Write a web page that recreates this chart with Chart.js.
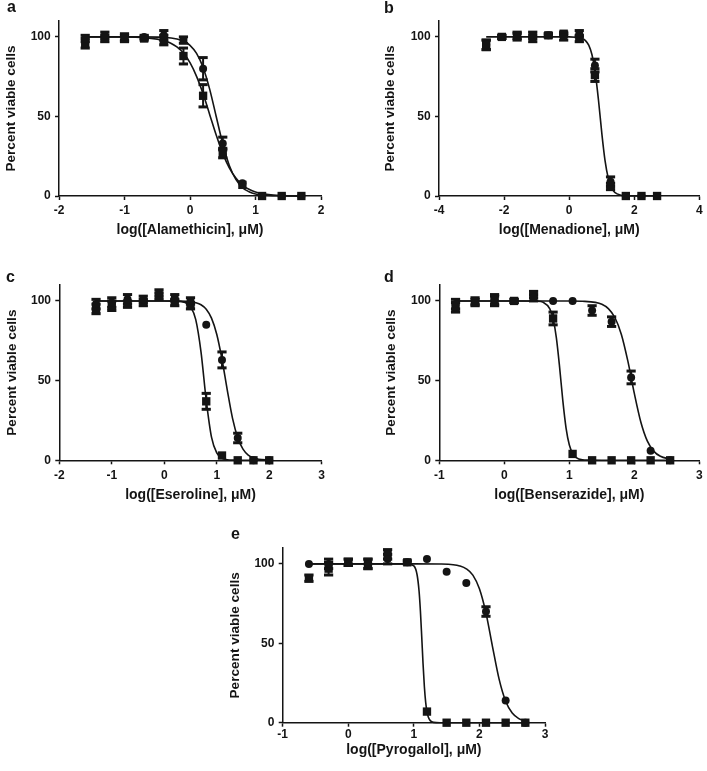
<!DOCTYPE html>
<html><head><meta charset="utf-8">
<script src="https://cdn.jsdelivr.net/npm/chart.js@4.4.1/dist/chart.umd.min.js"></script>
<style>
html,body{margin:0;padding:0;background:#fff;}
body{width:707px;height:771px;position:relative;overflow:hidden;}
canvas{position:absolute;}
</style></head><body>
<canvas id="ca"></canvas><canvas id="cb"></canvas><canvas id="cc"></canvas><canvas id="cd"></canvas><canvas id="ce"></canvas>
<script>
// ---------- shared ticks ----------
const yTicks = [0, 50, 100];
const a_xTicks = [-2, -1, 0, 1, 2];
const b_xTicks = [-4, -2, 0, 2, 4];
const c_xTicks = [-2, -1, 0, 1, 2, 3];
const d_xTicks = [-1, 0, 1, 2, 3];
const e_xTicks = [-1, 0, 1, 2, 3];

// ---------- panel a : Alamethicin ----------
const a_x = [-1.6, -1.3, -1.0, -0.7, -0.4, -0.1, 0.2, 0.5, 0.8, 1.1, 1.4, 1.7];
const a_circle    = [99, 101, 100, 100, 101, 98, 80, 33, 8, 0, 0, 0];
const a_circleErr = [2, 2, 2, 1, 3, 2, 7, 4, 0, 0, 0, 0];
const a_square    = [96, 99, 99, 99, 98, 88, 63, 27, 7, 0, 0, 0];
const a_squareErr = [3, 2, 2, 1, 3, 5, 7, 3, 0, 0, 0, 0];
const a_fitCircleX = [-1.6, -0.8, -0.4, -0.2, -0.1, 0, 0.1, 0.2, 0.3, 0.4, 0.5, 0.6, 0.7, 0.8, 0.9, 1.0, 1.2, 1.4, 1.7];
const a_fitCircle  = [100, 100, 99.7, 98.7, 97.3, 94.7, 89.6, 80.8, 67.2, 50, 32.8, 19.2, 10.4, 5.3, 2.7, 1.3, 0.3, 0.1, 0];
const a_fitSquareX = [-1.6, -1.0, -0.7, -0.5, -0.4, -0.3, -0.2, -0.1, 0, 0.1, 0.2, 0.3, 0.4, 0.5, 0.6, 0.7, 0.8, 0.9, 1.0, 1.2, 1.4, 1.7];
const a_fitSquare  = [100, 99.9, 99.5, 98.6, 97.7, 96.2, 93.7, 89.8, 83.8, 75.2, 64.2, 51.3, 38.3, 26.8, 17.7, 11.3, 6.9, 4.2, 2.5, 0.9, 0.3, 0];

// ---------- panel b : Menadione ----------
const b_x = [-2.55, -2.07, -1.6, -1.12, -0.64, -0.17, 0.31, 0.79, 1.27, 1.74, 2.22, 2.70];
const b_circle    = [95, 100, 100, 99, 101, 100, 102, 82, 9, 0, 0, 0];
const b_circleErr = [3, 1, 2, 2, 1, 2, 2, 4, 3, 0, 0, 0];
const b_square    = [95, 100, 101, 101, 101, 102, 99, 76, 6, 0, 0, 0];
const b_squareErr = [3, 1, 2, 2, 1, 1, 2, 4, 2, 0, 0, 0];
const b_fitX = [-2.55, -1.0, 0, 0.2, 0.4, 0.5, 0.6, 0.7, 0.8, 0.9, 1.0, 1.1, 1.2, 1.3, 1.4, 1.6, 1.8, 2.0, 2.7];
const b_fit  = [100, 100, 100, 99.8, 99.0, 97.7, 94.8, 88.8, 77.6, 60.2, 39.8, 22.4, 11.2, 5.2, 2.3, 0.5, 0.1, 0, 0];

// ---------- panel c : Eseroline ----------
const c_x = [-1.3, -1.0, -0.7, -0.4, -0.1, 0.2, 0.5, 0.8, 1.1, 1.4, 1.7, 2.0];
const c_circle    = [98, 99, 101, 101, 105, 102, 100, 85, 63, 14, 0, 0];
const c_circleErr = [3, 3, 3, 2, 2, 2, 2, 0, 5, 3, 0, 0];
const c_square    = [95, 97, 98, 99, 103, 99, 97, 37, 3, 0, 0, 0];
const c_squareErr = [3, 3, 2, 2, 2, 2, 2, 5, 0, 0, 0, 0];
const c_fitSquareX = [-1.3, 0, 0.2, 0.4, 0.5, 0.6, 0.7, 0.8, 0.9, 1.0, 1.1, 1.2, 1.3, 1.5, 2.0];
const c_fitSquare  = [100, 100, 99.9, 99.0, 96.4, 88.3, 68.1, 37.6, 14.5, 4.6, 1.3, 0.4, 0.1, 0, 0];
const c_fitCircleX = [-1.3, 0, 0.3, 0.5, 0.6, 0.7, 0.8, 0.9, 1.0, 1.1, 1.2, 1.3, 1.4, 1.5, 1.6, 1.7, 1.8, 2.0];
const c_fitCircle  = [100, 100, 99.9, 99.5, 98.9, 97.6, 94.8, 89.2, 79.1, 63.4, 44.2, 26.5, 14.2, 7.0, 3.3, 1.6, 0.7, 0.15];

// ---------- panel d : Benserazide ----------
const d_x = [-0.75, -0.45, -0.15, 0.15, 0.45, 0.75, 1.05, 1.35, 1.65, 1.95, 2.25, 2.55];
const d_circle    = [98, 100, 101, 100, 102, 100, 100, 94, 87, 52, 6, 0];
const d_circleErr = [3, 2, 3, 1, 2, 0, 0, 3, 3, 4, 0, 0];
const d_square    = [96, 99, 100, 100, 104, 89, 4, 0, 0, 0, 0, 0];
const d_squareErr = [3, 2, 3, 1, 2, 4, 0, 0, 0, 0, 0, 0];
const d_fitSquareX = [-0.75, 0.3, 0.5, 0.6, 0.7, 0.75, 0.8, 0.85, 0.9, 0.95, 1.0, 1.05, 1.1, 1.2, 1.3, 1.5, 2.55];
const d_fitSquare  = [100, 100, 99.8, 99.1, 95.0, 88.8, 77.0, 58.5, 37.3, 20.1, 9.6, 4.4, 1.9, 0.3, 0.1, 0, 0];
const d_fitCircleX = [-0.75, 0.5, 1.0, 1.2, 1.4, 1.5, 1.6, 1.7, 1.8, 1.9, 2.0, 2.1, 2.2, 2.3, 2.4, 2.55];
const d_fitCircle  = [100, 100, 100, 99.8, 99.1, 97.9, 95.2, 89.6, 79.0, 62.2, 41.8, 23.9, 12.0, 5.6, 2.5, 0.7];

// ---------- panel e : Pyrogallol ----------
const e_x = [-0.6, -0.3, 0, 0.3, 0.6, 0.9, 1.2, 1.5, 1.8, 2.1, 2.4, 2.7];
const e_circle    = [100, 100, 101, 100, 103, 101, 103, 95, 88, 70, 14, 0];
const e_circleErr = [0, 3, 2, 3, 3, 0, 0, 0, 0, 3, 0, 0];
const e_square    = [91, 97, 101, 100, 106, 101, 7, 0, 0, 0, 0, 0];
const e_squareErr = [2, 4, 2, 3, 3, 1, 0, 0, 0, 0, 0, 0];
const e_fitSquareX = [-0.6, 0.9, 1.0, 1.05, 1.08, 1.1, 1.12, 1.14, 1.16, 1.18, 1.2, 1.22, 1.25, 1.3, 1.4, 2.7];
const e_fitSquare  = [100, 100, 98.7, 93.0, 82.6, 70.3, 54.3, 37.3, 23.0, 13.0, 7.0, 3.6, 1.3, 0.2, 0, 0];
const e_fitCircleX = [-0.6, 1.0, 1.4, 1.6, 1.7, 1.8, 1.9, 2.0, 2.1, 2.2, 2.3, 2.4, 2.5, 2.6, 2.7];
const e_fitCircle  = [100, 100, 99.9, 99.5, 98.7, 96.9, 92.9, 84.3, 69.0, 47.8, 27.4, 13.5, 6.1, 2.6, 1.1];

const yTitle = 'Percent viable cells';

// ---------- helpers ----------
const FONT = "'Liberation Sans', Arial, Helvetica, sans-serif";
const INK = '#141414';
function pts(xs, ys) { return xs.map((x, i) => ({x: x, y: ys[i]})); }
function stems(xs, ys, es) {
  const out = [];
  xs.forEach((x, i) => { if (es[i] > 0) out.push({x: x, y: ys[i] - es[i]}, {x: x, y: ys[i] + es[i]}, {x: x, y: null}); });
  return out;
}
function caps(xs, ys, es) {
  const out = [];
  xs.forEach((x, i) => { if (es[i] > 0) out.push({x: x, y: ys[i] - es[i]}, {x: x, y: ys[i] + es[i]}); });
  return out;
}

function panel(p) {
  const cv = document.getElementById(p.id);
  cv.width = p.W; cv.height = p.H;
  cv.style.left = p.L + 'px'; cv.style.top = p.T + 'px';
  cv.style.width = p.W + 'px'; cv.style.height = p.H + 'px';

  const datasets = [];
  datasets.push({type: 'scatter', data: pts(p.x, p.circle), pointStyle: 'circle', pointRadius: 4,
    backgroundColor: INK, borderWidth: 0, clip: false});
  datasets.push({type: 'scatter', data: pts(p.x, p.square), pointStyle: 'rect', pointRadius: 5.9,
    backgroundColor: INK, borderWidth: 0, clip: false});
  datasets.push({type: 'scatter', data: caps(p.x, p.circle, p.circleErr).concat(caps(p.x, p.square, p.squareErr)),
    pointStyle: 'line', pointRadius: 4.6, borderColor: INK, pointBorderWidth: 3, borderWidth: 3, clip: false});
  datasets.push({type: 'line', data: stems(p.x, p.circle, p.circleErr), borderColor: INK, borderWidth: 2,
    pointRadius: 0, spanGaps: false, clip: false});
  datasets.push({type: 'line', data: stems(p.x, p.square, p.squareErr), borderColor: INK, borderWidth: 2,
    pointRadius: 0, spanGaps: false, clip: false});
  p.fits.forEach(f => {
    datasets.push({type: 'line', data: pts(f[0], f[1]), borderColor: INK, borderWidth: 1.6,
      pointRadius: 0, cubicInterpolationMode: 'monotone', fill: false, clip: false});
  });

  const tickFont = {family: FONT, size: 12, weight: 'bold'};
  const xTitleFont = {family: FONT, size: 14, weight: 'bold', lineHeight: 1};
  const yTitleFont = {family: FONT, size: 13.6, weight: 'bold', lineHeight: 1};
  const gridOpts = {display: true, drawOnChartArea: false, drawTicks: true, tickLength: 4, tickWidth: 1.5, tickColor: INK};
  const borderOpts = {display: true, color: INK, width: 1.5};

  new Chart(cv, {
    type: 'scatter',
    data: {datasets: datasets},
    options: {
      responsive: false, animation: false, devicePixelRatio: 1,
      layout: {padding: {left: p.padL, right: p.padR, top: 0, bottom: 0}},
      plugins: {
        legend: {display: false}, tooltip: {enabled: false},
        title: {display: true, text: p.letter, align: 'start', color: INK,
          font: {family: FONT, size: 16, weight: 'bold', lineHeight: 0.8},
          padding: {top: p.tTop, bottom: p.tBot}}
      },
      scales: {
        x: {
          type: 'linear', min: p.xTicks[0], max: p.xTicks[p.xTicks.length - 1],
          afterBuildTicks: s => { s.ticks = p.xTicks.map(v => ({value: v})); },
          afterFit: s => { s.height = p.xH; s.paddingLeft = 0; s.paddingRight = 0; },
          ticks: {font: tickFont, color: INK, padding: p.xTickPad, maxRotation: 0, autoSkip: false},
          grid: gridOpts, border: borderOpts,
          title: {display: true, text: p.xTitle, color: INK, font: xTitleFont, padding: {top: 0, bottom: 2}}
        },
        y: {
          type: 'linear', min: 0, max: 110,
          afterBuildTicks: s => { s.ticks = yTicks.map(v => ({value: v})); },
          afterFit: s => { s.width = p.yW; s.paddingTop = 0; s.paddingBottom = 0; },
          ticks: {font: tickFont, color: INK, padding: 4.3},
          grid: gridOpts, border: borderOpts,
          title: {display: true, text: yTitle, color: INK, font: yTitleFont, padding: {top: p.yTitlePad, bottom: 0}}
        }
      }
    }
  });
}

panel({id: 'ca', letter: 'a', L: 0, T: 0, W: 340, H: 239, padL: 7, padR: 19, yW: 52, xH: 43,
  tTop: 1.6, tBot: 6.6, yTitlePad: -3, xTickPad: 3.8, xTicks: a_xTicks,
  xTitle: 'log([Alamethicin], \u03BCM)', x: a_x, circle: a_circle, circleErr: a_circleErr,
  square: a_square, squareErr: a_squareErr, fits: [[a_fitCircleX, a_fitCircle], [a_fitSquareX, a_fitSquare]]});

panel({id: 'cb', letter: 'b', L: 350, T: 0, W: 357, H: 239, padL: 34, padR: 7, yW: 55, xH: 43,
  tTop: 2.3, tBot: 5.9, yTitlePad: -1, xTickPad: 3.8, xTicks: b_xTicks,
  xTitle: 'log([Menadione], \u03BCM)', x: b_x, circle: b_circle, circleErr: b_circleErr,
  square: b_square, squareErr: b_squareErr, fits: [[b_fitX, b_fit]]});

panel({id: 'cc', letter: 'c', L: 0, T: 250, W: 340, H: 254, padL: 6, padR: 18.3, yW: 53.3, xH: 43.7,
  tTop: 21.6, tBot: 0.6, yTitlePad: -1, xTickPad: 3.8, xTicks: c_xTicks,
  xTitle: 'log([Eseroline], \u03BCM)', x: c_x, circle: c_circle, circleErr: c_circleErr,
  square: c_square, squareErr: c_squareErr, fits: [[c_fitCircleX, c_fitCircle], [c_fitSquareX, c_fitSquare]]});

panel({id: 'cd', letter: 'd', L: 350, T: 250, W: 357, H: 254, padL: 34, padR: 7, yW: 55.3, xH: 43.7,
  tTop: 21.6, tBot: 0.6, yTitlePad: 0, xTickPad: 3.8, xTicks: d_xTicks,
  xTitle: 'log([Benserazide], \u03BCM)', x: d_x, circle: d_circle, circleErr: d_circleErr,
  square: d_square, squareErr: d_squareErr, fits: [[d_fitCircleX, d_fitCircle], [d_fitSquareX, d_fitSquare]]});

panel({id: 'ce', letter: 'e', L: 200, T: 500, W: 360, H: 259, padL: 31, padR: 15, yW: 51.7, xH: 36.3,
  tTop: 28.3, tBot: 6.9, yTitlePad: -3, xTickPad: 0.5, xTicks: e_xTicks,
  xTitle: 'log([Pyrogallol], \u03BCM)', x: e_x, circle: e_circle, circleErr: e_circleErr,
  square: e_square, squareErr: e_squareErr, fits: [[e_fitCircleX, e_fitCircle], [e_fitSquareX, e_fitSquare]]});
</script>
</body></html>
